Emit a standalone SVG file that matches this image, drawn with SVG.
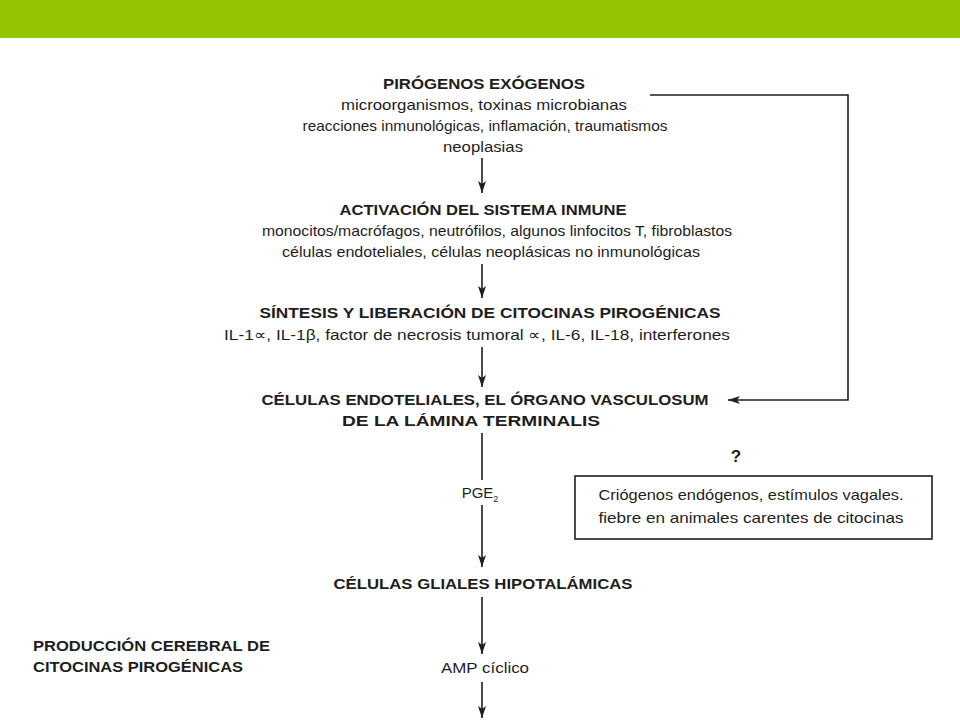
<svg xmlns="http://www.w3.org/2000/svg" width="960" height="720" viewBox="0 0 960 720">
<style>
.t{font-family:"Liberation Sans",Arial,sans-serif;font-size:15px;font-weight:bold;fill:#1e1e1e;text-anchor:middle}
.b{font-family:"Liberation Sans",Arial,sans-serif;font-size:15px;fill:#1e1e1e;text-anchor:middle}
.l{font-family:"Liberation Sans",Arial,sans-serif;font-size:15px;font-weight:bold;fill:#1e1e1e}
.c{fill:none;stroke:#1e1e1e;stroke-width:1.6}
</style>
<defs>
<marker id="ah" viewBox="0 0 12 8" refX="12" refY="4" markerWidth="12" markerHeight="8" markerUnits="userSpaceOnUse" orient="auto">
<path d="M0,0 L12,4 L0,8 L3,4 Z" fill="#1e1e1e"/>
</marker>
</defs>
<rect x="0" y="0" width="960" height="720" fill="#ffffff"/>
<rect x="0" y="0" width="960" height="38" fill="#93c400"/>

<g id="pirogenos">
<text class="t" x="484" y="89" textLength="202" lengthAdjust="spacingAndGlyphs">PIRÓGENOS EXÓGENOS</text>
<text class="b" x="484" y="110" textLength="286" lengthAdjust="spacingAndGlyphs">microorganismos, toxinas microbianas</text>
<text class="b" x="485" y="131" textLength="365" lengthAdjust="spacingAndGlyphs">reacciones inmunológicas, inflamación, traumatismos</text>
<text class="b" x="483" y="152" textLength="80" lengthAdjust="spacingAndGlyphs">neoplasias</text>
</g>

<g id="activacion">
<text class="t" x="483" y="215" textLength="287" lengthAdjust="spacingAndGlyphs">ACTIVACIÓN DEL SISTEMA INMUNE</text>
<text class="b" x="497" y="236" textLength="470" lengthAdjust="spacingAndGlyphs">monocitos/macrófagos, neutrófilos, algunos linfocitos T, fibroblastos</text>
<text class="b" x="491" y="257" textLength="418" lengthAdjust="spacingAndGlyphs">células endoteliales, células neoplásicas no inmunológicas</text>
</g>

<g id="sintesis">
<text class="t" x="490" y="318" textLength="461" lengthAdjust="spacingAndGlyphs">SÍNTESIS Y LIBERACIÓN DE CITOCINAS PIROGÉNICAS</text>
<text class="b" x="477" y="340" textLength="506" lengthAdjust="spacingAndGlyphs">IL-1∝, IL-1β, factor de necrosis tumoral ∝, IL-6, IL-18, interferones</text>
</g>

<g id="endoteliales">
<text class="t" x="485" y="405" textLength="447" lengthAdjust="spacingAndGlyphs">CÉLULAS ENDOTELIALES, EL ÓRGANO VASCULOSUM</text>
<text class="t" x="471" y="426" textLength="258" lengthAdjust="spacingAndGlyphs">DE LA LÁMINA TERMINALIS</text>
</g>

<g id="pge2">
<text class="b" x="480" y="498">PGE<tspan font-size="9" dy="4">2</tspan></text>
</g>

<g id="interrogante">
<text class="t" x="736" y="462" style="font-size:17px">?</text>
</g>

<g id="criogenos">
<rect x="575" y="476" width="357" height="63" fill="#ffffff" stroke="#1e1e1e" stroke-width="1.6"/>
<text class="b" x="751" y="500" textLength="305" lengthAdjust="spacingAndGlyphs">Criógenos endógenos, estímulos vagales.</text>
<text class="b" x="751" y="523" textLength="305" lengthAdjust="spacingAndGlyphs">fiebre en animales carentes de citocinas</text>
</g>

<g id="gliales">
<text class="t" x="483" y="589" textLength="299" lengthAdjust="spacingAndGlyphs">CÉLULAS GLIALES HIPOTALÁMICAS</text>
</g>

<g id="produccion">
<text class="l" x="33" y="651" textLength="237" lengthAdjust="spacingAndGlyphs">PRODUCCIÓN CEREBRAL DE</text>
<text class="l" x="33" y="672" textLength="210" lengthAdjust="spacingAndGlyphs">CITOCINAS PIROGÉNICAS</text>
</g>

<g id="amp">
<text class="b" x="485" y="673" textLength="88" lengthAdjust="spacingAndGlyphs">AMP cíclico</text>
</g>

<g id="connectors">
<line class="c" x1="482" y1="158" x2="482" y2="193" marker-end="url(#ah)"/>
<line class="c" x1="482" y1="264" x2="482" y2="298" marker-end="url(#ah)"/>
<line class="c" x1="482" y1="347" x2="482" y2="387" marker-end="url(#ah)"/>
<line class="c" x1="482" y1="433" x2="482" y2="480"/>
<line class="c" x1="482" y1="505" x2="482" y2="567" marker-end="url(#ah)"/>
<line class="c" x1="482" y1="597" x2="482" y2="654" marker-end="url(#ah)"/>
<line class="c" x1="482" y1="682" x2="482" y2="718" marker-end="url(#ah)"/>
<polyline class="c" points="650,95 848,95 848,400 728,400" marker-end="url(#ah)"/>
</g>
</svg>
